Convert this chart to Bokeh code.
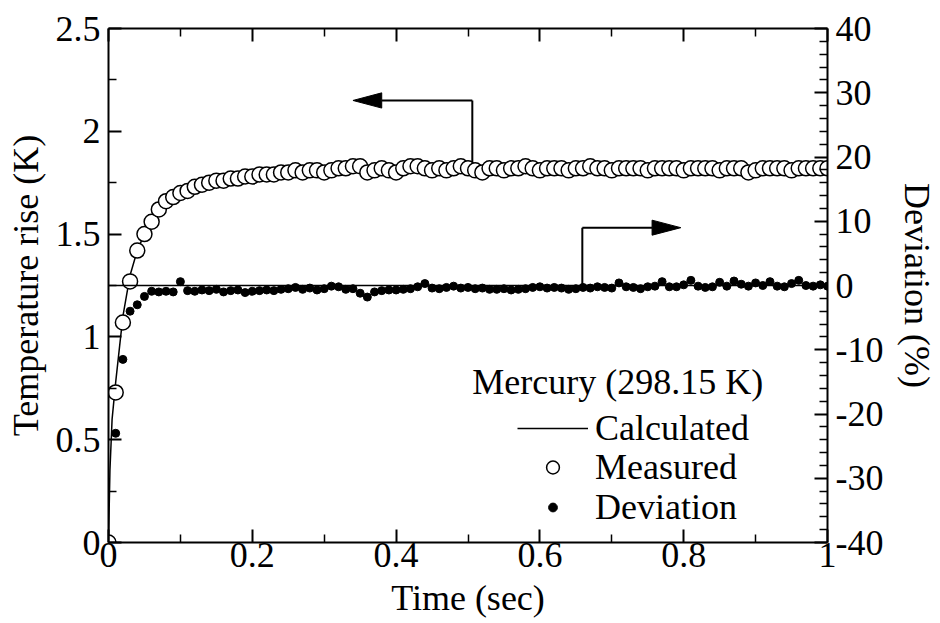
import math
from bokeh.plotting import figure
from bokeh.models import (Range1d, LinearAxis, FixedTicker, Span, Label, Legend,
                          LegendItem)
from bokeh.embed import file_html
from bokeh.resources import INLINE

# ---------------- data ----------------
time_meas = [0.00, 0.01, 0.02, 0.03, 0.04, 0.05, 0.06, 0.07, 0.08, 0.09,
             0.10, 0.11, 0.12, 0.13, 0.14, 0.15, 0.16, 0.17, 0.18, 0.19,
             0.20, 0.21, 0.22, 0.23, 0.24, 0.25, 0.26, 0.27, 0.28, 0.29,
             0.30, 0.31, 0.32, 0.33, 0.34, 0.35, 0.36, 0.37, 0.38, 0.39,
             0.40, 0.41, 0.42, 0.43, 0.44, 0.45, 0.46, 0.47, 0.48, 0.49,
             0.50, 0.51, 0.52, 0.53, 0.54, 0.55, 0.56, 0.57, 0.58, 0.59,
             0.60, 0.61, 0.62, 0.63, 0.64, 0.65, 0.66, 0.67, 0.68, 0.69,
             0.70, 0.71, 0.72, 0.73, 0.74, 0.75, 0.76, 0.77, 0.78, 0.79,
             0.80, 0.81, 0.82, 0.83, 0.84, 0.85, 0.86, 0.87, 0.88, 0.89,
             0.90, 0.91, 0.92, 0.93, 0.94, 0.95, 0.96, 0.97, 0.98, 0.99, 1.00]

measured = [0.00, 0.73, 1.07, 1.27, 1.42, 1.50, 1.56, 1.62, 1.66, 1.68,
            1.70, 1.71, 1.73, 1.74, 1.75, 1.76, 1.76, 1.77, 1.77, 1.78,
            1.78, 1.79, 1.79, 1.79, 1.80, 1.80, 1.81, 1.80, 1.81, 1.81,
            1.80, 1.81, 1.82, 1.82, 1.83, 1.83, 1.80, 1.81, 1.82, 1.81,
            1.80, 1.82, 1.83, 1.83, 1.82, 1.81, 1.82, 1.81, 1.82, 1.83,
            1.82, 1.81, 1.80, 1.82, 1.82, 1.81, 1.82, 1.82, 1.83, 1.82,
            1.81, 1.82, 1.82, 1.82, 1.81, 1.82, 1.82, 1.83, 1.82, 1.82,
            1.81, 1.82, 1.82, 1.82, 1.82, 1.81, 1.82, 1.82, 1.82, 1.82,
            1.81, 1.82, 1.82, 1.82, 1.82, 1.81, 1.82, 1.82, 1.82, 1.80,
            1.81, 1.82, 1.82, 1.82, 1.82, 1.81, 1.82, 1.82, 1.82, 1.82, 1.82]

time_dev = time_meas[1:]
deviation = [-23.0, -11.5, -4.0, -3.0, -1.7, -0.9, -1.0, -0.9, -1.0, 0.6,
             -0.8, -0.9, -0.7, -0.8, -0.6, -1.0, -0.8, -0.7, -1.1, -0.9,
             -0.8, -0.7, -0.8, -0.6, -0.5, -0.3, -0.6, -0.4, -0.7, -0.5,
             -0.1, -0.2, -0.6, -0.5, -1.2, -1.8, -1.0, -0.8, -0.7, -0.7,
             -0.6, -0.5, -0.2, 0.3, -0.4, -0.5, -0.3, -0.1, -0.4, -0.3,
             -0.5, -0.4, -0.6, -0.6, -0.5, -0.7, -0.6, -0.5, -0.3, -0.2,
             -0.4, -0.3, -0.4, -0.6, -0.5, -0.3, -0.4, -0.2, -0.3, -0.4,
             0.4, -0.2, -0.3, -0.5, -0.2, -0.1, 0.6, -0.2, -0.2, 0.1,
             0.8, -0.1, -0.3, -0.2, 0.5, -0.1, 0.7, 0.2, -0.1, 0.4,
             0.0, 0.6, -0.1, -0.2, 0.3, 0.8, 0.0, -0.1, 0.1, -0.1]

time_calc = [0.0, 0.002, 0.005, 0.01, 0.02, 0.03, 0.04, 0.05, 0.06, 0.08,
             0.10, 0.15, 0.20, 0.30, 0.50, 1.00]
calculated = [0.0, 0.35, 0.60, 0.78, 1.10, 1.30, 1.42, 1.50, 1.56, 1.65,
              1.70, 1.76, 1.79, 1.81, 1.82, 1.82]

x_ticks = [0, 0.2, 0.4, 0.6, 0.8, 1.0]
x_tick_labels = ["0", "0.2", "0.4", "0.6", "0.8", "1"]
y_ticks = [0, 0.5, 1.0, 1.5, 2.0, 2.5]
y_tick_labels = ["0", "0.5", "1", "1.5", "2", "2.5"]
dev_ticks = [-40, -30, -20, -10, 0, 10, 20, 30, 40]
dev_tick_labels = ["-40", "-30", "-20", "-10", "0", "10", "20", "30", "40"]

title_text = "Mercury (298.15 K)"
x_title = "Time (sec)"
y_title = "Temperature rise (K)"
y2_title = "Deviation (%)"

# ---------------- styling ----------------
FONT = "'Liberation Serif', 'Times New Roman', serif"
FS = "36px"

p = figure(width=940, height=623, x_range=Range1d(0, 1), y_range=Range1d(0, 2.5),
           output_backend="svg", toolbar_location=None,
           min_border_left=108, min_border_right=111, min_border_top=28,
           min_border_bottom=81, x_axis_location=None, y_axis_location=None)
p.extra_y_ranges = {"dev": Range1d(-40, 40)}
p.grid.visible = False
p.outline_line_color = None
p.background_fill_color = "white"
p.border_fill_color = "white"


def style_axis(ax, labels=True):
    ax.axis_line_width = 2
    ax.axis_line_color = "black"
    ax.major_tick_line_width = 2
    ax.minor_tick_line_width = 1.5
    ax.major_tick_in = 13
    ax.major_tick_out = 0
    ax.minor_tick_in = 8
    ax.minor_tick_out = 0
    ax.major_label_text_font = FONT
    ax.major_label_text_font_size = FS
    ax.major_label_text_color = "black" if labels else None
    ax.major_label_standoff = 8
    ax.axis_label_text_font = FONT
    ax.axis_label_text_font_size = FS
    ax.axis_label_text_font_style = "normal"
    ax.axis_label_text_color = "black"
    ax.axis_label_standoff = 7


xticker = FixedTicker(ticks=x_ticks, minor_ticks=[0.1, 0.3, 0.5, 0.7, 0.9])
yticker = FixedTicker(ticks=y_ticks, minor_ticks=[0.25, 0.75, 1.25, 1.75, 2.25])
dev_minor = [-38, -36, -34, -32, -28, -26, -24, -22, -18, -16, -14, -12,
             -8, -6, -4, -2, 2, 4, 6, 8, 12, 14, 16, 18, 22, 24, 26, 28,
             32, 34, 36, 38]
devticker = FixedTicker(ticks=dev_ticks, minor_ticks=dev_minor)

xb = LinearAxis(ticker=xticker, axis_label=x_title,
                major_label_overrides=dict(zip(x_ticks, x_tick_labels)))
style_axis(xb)
xb.major_label_standoff = 0
xb.axis_label_standoff = 8
p.add_layout(xb, "below")

xt = LinearAxis(ticker=xticker)
style_axis(xt, labels=False)
p.add_layout(xt, "above")

yl = LinearAxis(ticker=yticker, axis_label=y_title,
                major_label_overrides=dict(zip(y_ticks, y_tick_labels)))
style_axis(yl)
p.add_layout(yl, "left")

yr = LinearAxis(ticker=devticker, y_range_name="dev", axis_label=y2_title,
                major_label_overrides=dict(zip(dev_ticks, dev_tick_labels)))
style_axis(yr)
yr.axis_label_standoff = 11
p.add_layout(yr, "right")

# zero line of the deviation scale
p.add_layout(Span(location=0, dimension="width", y_range_name="dev",
                  line_color="black", line_width=1.5))

# calculated curve
r_calc = p.line(time_calc, calculated, line_color="black", line_width=1.5)

# deviation dots
r_dev = p.scatter(time_dev, deviation, y_range_name="dev", size=8,
                  marker="circle", fill_color="black", line_color="black")

# measured open circles
r_meas = p.scatter(time_meas, measured, size=15, marker="circle",
                   fill_color="white", line_color="black", line_width=1.5)

# arrows (annotation pointers)
left_arrow_x = 0.506
left_arrow_y0, left_arrow_y1 = 1.85, 2.15
left_arrow_tip = 0.34
right_arrow_x = 0.659
right_arrow_y0, right_arrow_y1 = 0.0, 9.0
right_arrow_tip = 0.796
head_len = 0.040
head_half_t = 0.037
head_half_d = 1.17

p.segment(x0=[left_arrow_x, left_arrow_x], y0=[left_arrow_y0, left_arrow_y1],
          x1=[left_arrow_x, left_arrow_tip + head_len], y1=[left_arrow_y1, left_arrow_y1],
          line_color="black", line_width=2)
p.patch([left_arrow_tip, left_arrow_tip + head_len, left_arrow_tip + head_len],
        [left_arrow_y1, left_arrow_y1 + head_half_t, left_arrow_y1 - head_half_t],
        fill_color="black", line_color="black")

p.segment(x0=[right_arrow_x, right_arrow_x], y0=[right_arrow_y0, right_arrow_y1],
          x1=[right_arrow_x, right_arrow_tip - head_len], y1=[right_arrow_y1, right_arrow_y1],
          line_color="black", line_width=2, y_range_name="dev")
p.patch([right_arrow_tip, right_arrow_tip - head_len, right_arrow_tip - head_len],
        [right_arrow_y1, right_arrow_y1 + head_half_d, right_arrow_y1 - head_half_d],
        fill_color="black", line_color="black", y_range_name="dev")

# legend title
p.add_layout(Label(x=0.506, y=0.78, text=title_text, text_font=FONT,
                   text_font_size=FS, text_baseline="middle", text_color="black"))


def make_legend(label, rend, gh, loc):
    lg = Legend(items=[LegendItem(label=label, renderers=[rend])], location=loc,
                glyph_width=71, glyph_height=gh, label_height=40,
                label_standoff=7, padding=0, margin=0, spacing=0,
                border_line_color=None, background_fill_alpha=0,
                label_text_font=FONT, label_text_font_size=FS,
                label_text_color="black")
    p.add_layout(lg, "center")


make_legend("Calculated", r_calc, 40, (409, 93))
make_legend("Measured", r_meas, 32, (409, 54))
make_legend("Deviation", r_dev, 22, (409, 14))

open("out.html", "w").write(file_html(p, INLINE))
